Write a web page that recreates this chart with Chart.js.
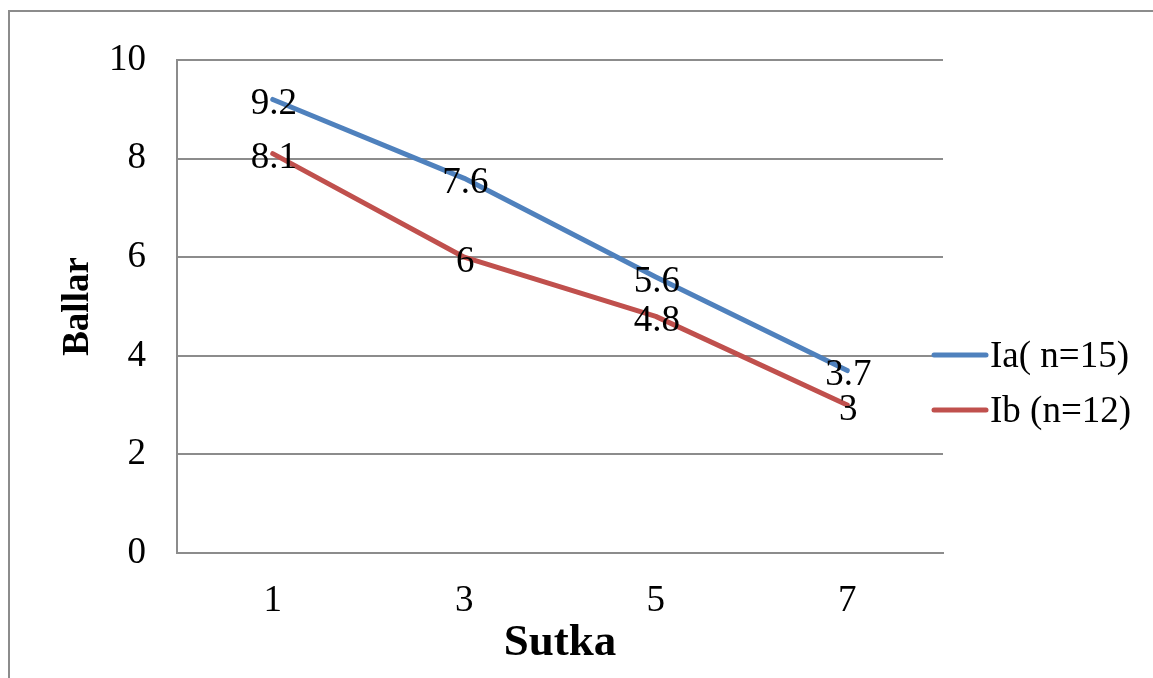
<!DOCTYPE html>
<html>
<head>
<meta charset="utf-8">
<script src="https://cdn.jsdelivr.net/npm/chart.js@4/dist/chart.umd.min.js"></script>
<style>
  html, body { margin: 0; padding: 0; background: #fff; }
  #wrap { width: 1153px; height: 678px; position: relative; }
</style>
</head>
<body>
<div id="wrap"><canvas id="chart"></canvas></div>
<script>
const days = ["1", "3", "5", "7"];
const groupA = [9.2, 7.6, 5.6, 3.7];
const groupB = [8.1, 6, 4.8, 3];
const seriesNames = ["Ia( n=15)", "Ib (n=12)"];
const seriesColors = ["#4F81BD", "#C0504D"];

const serif = "'Liberation Serif', 'Times New Roman', serif";
const gridGray = "#8c8c8c";

// outer frame + white background
const framePlugin = {
  id: "frame",
  beforeDraw(chart) {
    const ctx = chart.ctx;
    ctx.save();
    ctx.fillStyle = "#fff";
    ctx.fillRect(0, 0, chart.width, chart.height);
    ctx.strokeStyle = gridGray;
    ctx.lineWidth = 2;
    ctx.strokeRect(9, 11, chart.width + 10, chart.height + 10);
    ctx.restore();
  }
};

// value labels sitting right on the points
const valueLabels = {
  id: "valueLabels",
  afterDatasetsDraw(chart) {
    const ctx = chart.ctx;
    ctx.save();
    ctx.font = "37px " + serif;
    ctx.fillStyle = "#000";
    ctx.textAlign = "center";
    ctx.textBaseline = "middle";
    chart.data.datasets.forEach((ds, i) => {
      chart.getDatasetMeta(i).data.forEach((pt, j) => {
        ctx.fillText(String(ds.data[j]), pt.x + 1, pt.y + 5);
      });
    });
    ctx.restore();
  }
};

// legend on the right, drawn by hand to place it like the original
const sideLegend = {
  id: "sideLegend",
  afterDraw(chart) {
    const ctx = chart.ctx;
    const rows = [355, 410];
    ctx.save();
    chart.data.datasets.forEach((ds, i) => {
      const y = rows[i];
      ctx.strokeStyle = ds.borderColor;
      ctx.lineWidth = 5;
      ctx.lineCap = "round";
      ctx.beginPath();
      ctx.moveTo(934, y);
      ctx.lineTo(986, y);
      ctx.stroke();
      ctx.fillStyle = "#000";
      ctx.font = "37px " + serif;
      ctx.textAlign = "left";
      ctx.textBaseline = "middle";
      ctx.fillText(ds.label, 990, y + 2);
    });
    ctx.restore();
  }
};

new Chart(document.getElementById("chart"), {
  type: "line",
  data: {
    labels: days,
    datasets: [
      { label: seriesNames[0], data: groupA, borderColor: seriesColors[0], backgroundColor: seriesColors[0] },
      { label: seriesNames[1], data: groupB, borderColor: seriesColors[1], backgroundColor: seriesColors[1] }
    ]
  },
  options: {
    responsive: true,
    maintainAspectRatio: false,
    animation: false,
    layout: { padding: { top: 60, right: 210, bottom: 0, left: 50 } },
    elements: {
      line: { borderWidth: 5, tension: 0, borderCapStyle: "round", borderJoinStyle: "round" },
      point: { radius: 0, hoverRadius: 0 }
    },
    plugins: {
      legend: { display: false },
      tooltip: { enabled: false }
    },
    scales: {
      x: {
        offset: true,
        grid: { display: false, drawTicks: false },
        border: { display: true, color: gridGray, width: 2 },
        ticks: { color: "#000", font: { family: serif, size: 37 }, padding: 26 },
        title: {
          display: true,
          text: "Sutka",
          color: "#000",
          font: { family: serif, size: 45, weight: "bold" },
          padding: { top: 8, bottom: 8 }
        },
        afterFit(scale) { scale.height = 125; }
      },
      y: {
        min: 0,
        max: 10,
        ticks: { stepSize: 2, color: "#000", font: { family: serif, size: 37 }, padding: 31 },
        grid: { color: gridGray, lineWidth: 2, drawTicks: false },
        border: { display: true, color: gridGray, width: 2 },
        title: {
          display: true,
          text: "Ballar",
          color: "#000",
          font: { family: serif, size: 37, weight: "bold" },
          padding: { top: 6, bottom: 6 }
        },
        afterFit(scale) { scale.width = 127; }
      }
    }
  },
  plugins: [framePlugin, valueLabels, sideLegend]
});
</script>
</body>
</html>
